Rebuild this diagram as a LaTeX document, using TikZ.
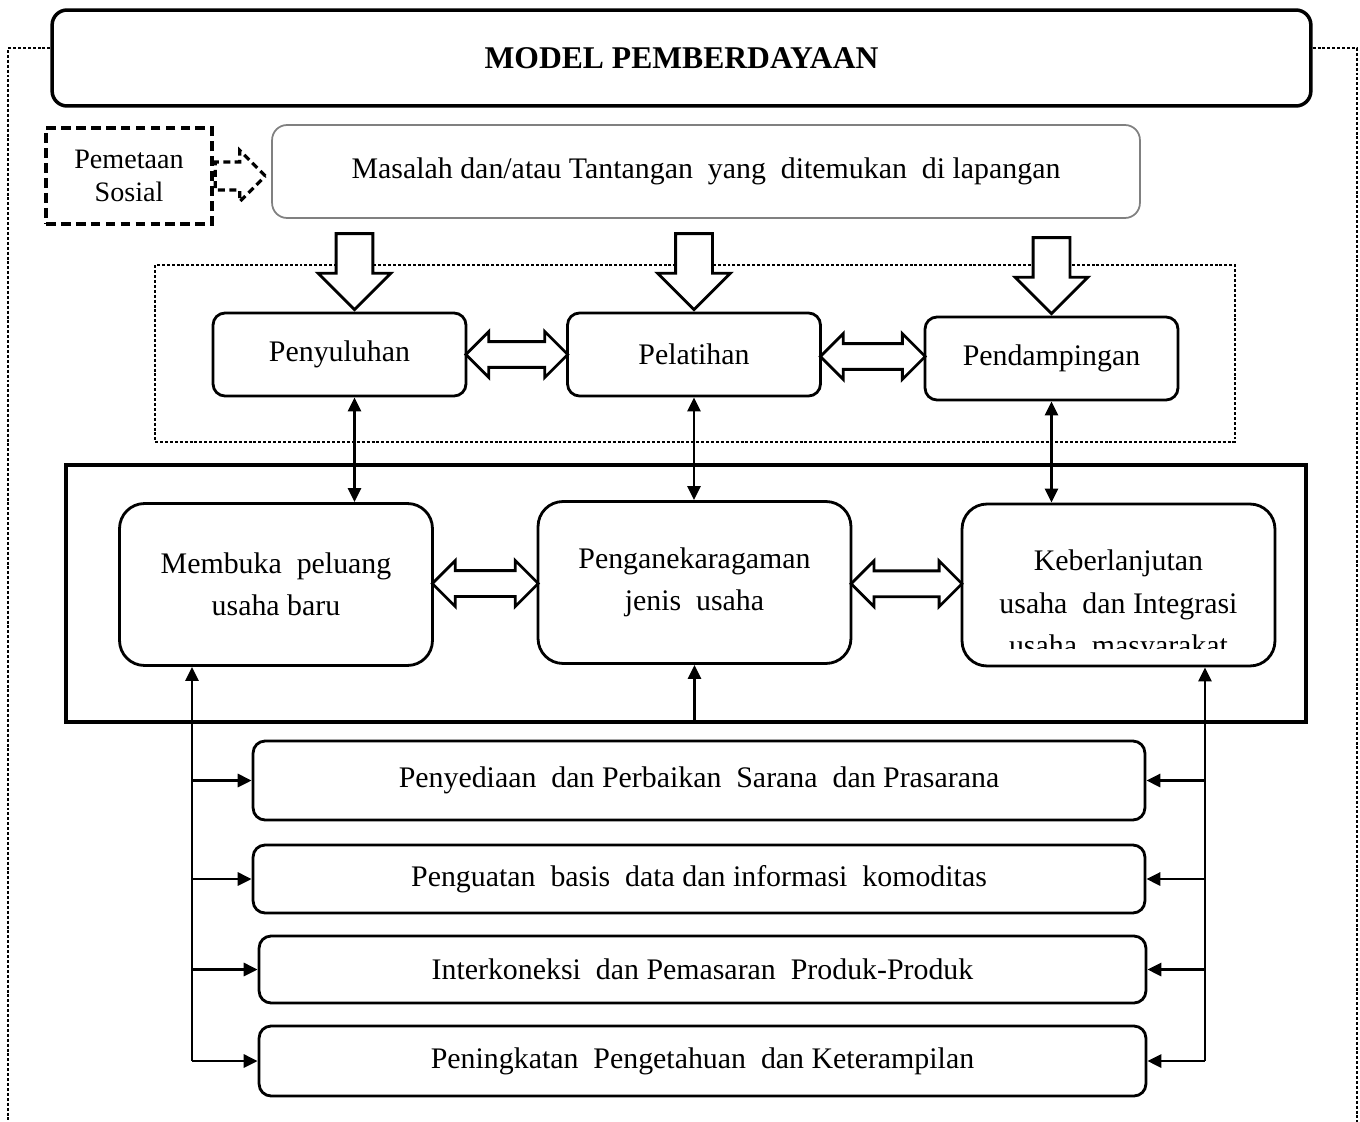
\documentclass[tikz,border=0pt]{standalone}
\usepackage{fontspec}
\setmainfont{Liberation Serif}
\usetikzlibrary{shapes.arrows,arrows.meta,calc}

\begin{document}
\begin{tikzpicture}[x=0.02cm, y=-0.02cm,
  font=\fontsize{17}{24}\selectfont,
  kotak/.style = {shape=rectangle, draw, line width=1.6pt,
    rounded corners=0.24cm, align=center},
  kotakbesar/.style = {kotak, rounded corners=0.5cm,
    minimum width=6.26cm, minimum height=3.24cm},
  kotakbawah/.style = {kotak, minimum width=17.84cm},
  garis/.style = {draw, dash pattern=on 1.7pt off 1.1pt, line width=0.7pt},
  panah/.style = {line width=1.6pt, -{Triangle[length=0.28cm,width=0.26cm]}},
  panahdua/.style = {line width=1.6pt,
    {Triangle[length=0.28cm,width=0.26cm]}-{Triangle[length=0.28cm,width=0.26cm]}},
  blokturun/.style = {single arrow, draw, fill=white, line width=1.6pt,
    rotate=-90, inner xsep=0pt, inner ysep=0.34cm, minimum height=1.52cm,
    minimum width=1.4cm, single arrow head extend=0.36cm, anchor=tip},
  blokdua/.style = {double arrow, draw, fill=white, line width=1.6pt,
    inner xsep=0pt, inner ysep=0.23cm, minimum width=0.86cm,
    double arrow head extend=0.2cm},
 ]
 \useasboundingbox (0,0) rectangle (1360,1122);

 % judul dan masalah
 \node[kotak, line width=2pt, rounded corners=0.3cm, minimum width=25.18cm,
   minimum height=1.92cm, font=\fontsize{18}{20}\selectfont\bfseries]
   (judul) at (681.5,58) {MODEL PEMBERDAYAAN};
 \draw[garis] ([yshift=0.2cm]judul.west) -| (8,1122);
 \draw[garis] ([yshift=0.2cm]judul.east) -| (1357,1122);
 \node[kotak, draw=gray, line width=1pt, rounded corners=0.3cm,
   minimum width=17.36cm, minimum height=1.86cm]
   (masalah) at (706,171.5) {Masalah dan/atau Tantangan \ yang \ ditemukan \ di lapangan};
 \node[shape=rectangle, draw, dash pattern=on 5.5pt off 3pt, line width=2pt,
   minimum width=3.32cm, minimum height=1.92cm, align=center,
   font=\fontsize{16}{19}\selectfont]
   (peta) at (129,176) {Pemetaan\\Sosial};
 \node[single arrow, draw, dash pattern=on 4pt off 2.5pt, line width=1.8pt,
   inner xsep=0pt, inner ysep=0.25cm, minimum height=1cm, minimum width=0.96cm,
   single arrow head extend=0.23cm, anchor=tail] at (peta.east) {};

 % kegiatan
 \node[garis, minimum width=21.6cm, minimum height=3.54cm] (atas) at (695,353.5) {};
 \node[kotak, minimum width=5.06cm, minimum height=1.66cm] (suluh) at (339.5,354.5) {Penyuluhan};
 \node[kotak, minimum width=5.06cm, minimum height=1.66cm] (latih) at (694,354.5) {Pelatihan};
 \node[kotak, minimum width=5.06cm, minimum height=1.66cm] (damping) at (1051.5,358.5) {Pendampingan};
 \coordinate (s1) at ([xshift=0.3cm]suluh.south);
 \node[blokturun] at ([xshift=0.3cm]suluh.north) {};
 \node[blokturun] at (latih.north) {};
 \node[blokturun] at (damping.north) {};
 \node[blokdua, minimum height=2.04cm] at ($(suluh.east)!.5!(latih.west)$) {};
 \node[blokdua, minimum height=2.1cm] at ($(latih.east)!.5!(damping.west)$) {};

 % hasil
 \node[draw, line width=2.2pt, minimum width=24.8cm, minimum height=5.14cm]
   (bingkai) at (686,593.5) {};
 \node[kotakbesar] (buka) at (276,584.5) {Membuka \ peluang\\usaha baru};
 \node[kotakbesar] (aneka) at (694.5,582.5) {Penganekaragaman\\jenis \ usaha};
 \node[kotakbesar] (lanjut) at (1118.5,585) {};
 \begin{scope}
  \clip (lanjut.north west) rectangle ($(lanjut.south east)+(0,-19)$);
  \node[align=center] at (1118.5,606) {Keberlanjutan\\usaha \ dan Integrasi\\usaha \ masyarakat};
 \end{scope}
 \node[blokdua, minimum height=2.12cm] at ($(buka.east)!.5!(aneka.west)$) {};
 \node[blokdua, minimum height=2.22cm] at ($(aneka.east)!.5!(lanjut.west)$) {};

 \draw[panahdua] (s1) -- (s1 |- buka.north);
 \draw[panahdua] (latih.south) -- (latih.south |- aneka.north);
 \draw[panahdua] (damping.south) -- (damping.south |- lanjut.north);

 % pendukung
 \node[kotakbawah, minimum height=1.58cm] (sedia) at (699,780.5)
   {Penyediaan \ dan Perbaikan \ Sarana \ dan Prasarana};
 \node[kotakbawah, minimum height=1.36cm] (kuat) at (699,879)
   {Penguatan \ basis \ data dan informasi \ komoditas};
 \node[kotakbawah, minimum width=17.74cm, minimum height=1.34cm] (koneksi) at (702.5,969.5)
   {Interkoneksi \ dan Pemasaran \ Produk-Produk};
 \node[kotakbawah, minimum width=17.74cm, minimum height=1.4cm] (tingkat) at (702.5,1061)
   {Peningkatan \ Pengetahuan \ dan Keterampilan};

 \coordinate (kiri) at (192,0);
 \coordinate (kanan) at (1205,0);
 \draw[panah] (kiri |- tingkat.west) -- (kiri |- buka.south);
 \draw[panah] (kanan |- tingkat.east) -- (kanan |- lanjut.south);
 \draw[panah] (aneka.south |- bingkai.south) -- (aneka.south);
 \foreach \n in {sedia,kuat,koneksi,tingkat} {
   \draw[panah] (kiri |- \n.west) -- (\n.west);
   \draw[panah] (kanan |- \n.east) -- (\n.east);
 }
\end{tikzpicture}
\end{document}
